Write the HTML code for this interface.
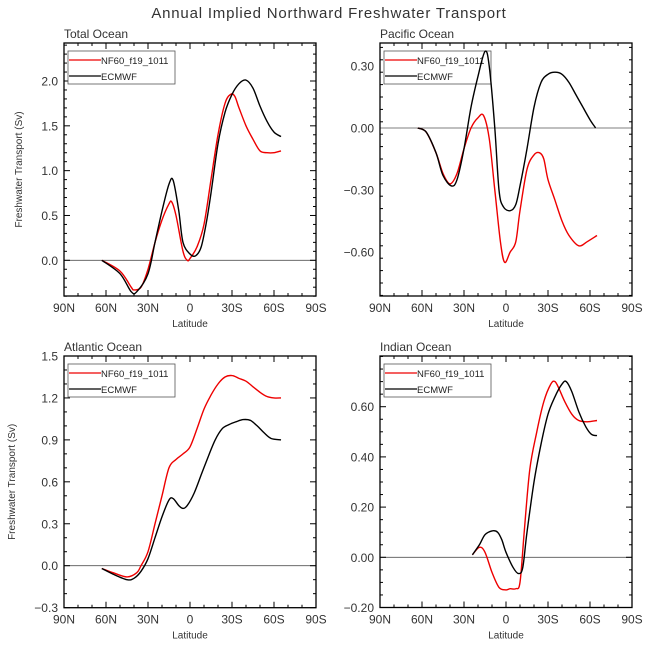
<!DOCTYPE html>
<html><head><meta charset="utf-8"><style>
body{margin:0;background:#fff}
svg{display:block;font-family:"Liberation Sans","DejaVu Sans",sans-serif}
</style></head><body>
<svg id="c" width="649" height="651" viewBox="0 0 649 651">
<text x="329" y="18" text-anchor="middle" font-size="15" fill="#333" letter-spacing="0.8">Annual Implied Northward Freshwater Transport</text>
</svg>
<script>
const latTicks=[-90,-60,-30,0,30,60,90];
const latLabels=["90N","60N","30N","0","30S","60S","90S"];
const totalLat=[-63,-50,-42,-40,-35,-30,-25,-20,-15,-13,-10,-5,-2,0,5,10,15,20,25,29,32,35,40,45,50,55,60,65];
const totalModel=[0,-0.12,-0.3,-0.33,-0.3,-0.1,0.2,0.45,0.63,0.65,0.5,0.1,0,0.02,0.15,0.4,0.9,1.4,1.75,1.85,1.83,1.7,1.5,1.35,1.22,1.2,1.2,1.22];
const totalObsLat=[-63,-50,-42,-38,-30,-25,-20,-15,-12,-8,-5,0,4,8,12,15,20,25,30,35,40,45,50,55,60,65];
const totalObs=[0,-0.15,-0.35,-0.35,-0.15,0.2,0.55,0.85,0.89,0.55,0.2,0.07,0.05,0.15,0.45,0.75,1.3,1.65,1.85,1.97,2.01,1.92,1.72,1.55,1.43,1.38];
const pacLat=[-63,-57,-50,-45,-40,-35,-30,-25,-20,-16,-12,-8,-4,-1,3,7,10,15,20,24,27,30,35,40,45,52,58,65];
const pacModel=[0,-0.02,-0.12,-0.22,-0.27,-0.22,-0.1,0,0.05,0.06,-0.05,-0.3,-0.55,-0.65,-0.6,-0.55,-0.4,-0.2,-0.13,-0.12,-0.15,-0.25,-0.35,-0.45,-0.52,-0.57,-0.55,-0.52];
const pacObsLat=[-63,-57,-50,-45,-39,-35,-30,-25,-20,-15,-12,-8,-5,-2,3,7,10,15,20,25,30,35,40,45,50,55,60,64];
const pacObs=[0,-0.02,-0.12,-0.23,-0.28,-0.25,-0.1,0.1,0.25,0.37,0.3,0,-0.3,-0.38,-0.4,-0.37,-0.28,-0.1,0.1,0.22,0.26,0.27,0.26,0.22,0.16,0.1,0.04,0];
const atlLat=[-63,-55,-45,-38,-35,-30,-25,-20,-15,-10,-5,0,5,10,15,20,25,30,35,40,45,50,55,60,65];
const atlModel=[-0.02,-0.05,-0.08,-0.05,0,0.1,0.3,0.5,0.7,0.76,0.8,0.85,0.98,1.12,1.22,1.3,1.35,1.36,1.34,1.32,1.28,1.24,1.21,1.2,1.2];
const atlObsLat=[-63,-55,-45,-40,-35,-30,-25,-20,-15,-12,-8,-5,-2,3,8,13,18,23,28,33,38,43,48,53,58,65];
const atlObs=[-0.02,-0.06,-0.1,-0.09,-0.04,0.05,0.2,0.35,0.47,0.48,0.43,0.41,0.43,0.52,0.65,0.78,0.9,0.98,1.01,1.03,1.045,1.04,1,0.95,0.91,0.9];
const indLat=[-24,-19,-15,-10,-5,0,3,7,10,13,17,22,27,32,35,38,42,47,52,58,65];
const indModel=[0.01,0.04,0.02,-0.06,-0.12,-0.13,-0.125,-0.125,-0.1,0.1,0.35,0.5,0.62,0.69,0.7,0.67,0.62,0.57,0.545,0.54,0.545];
const indObsLat=[-24,-19,-15,-10,-6,-3,0,5,9,12,15,20,25,30,35,40,43,47,52,57,61,65];
const indObs=[0.01,0.05,0.09,0.105,0.1,0.07,0.02,-0.04,-0.065,-0.04,0.1,0.3,0.45,0.57,0.64,0.69,0.7,0.66,0.58,0.52,0.49,0.485];
const totalTicks=[0,0.5,1,1.5,2];const totalTickLabels=["0.0","0.5","1.0","1.5","2.0"];
const pacTicks=[-0.6,-0.3,0,0.3];const pacTickLabels=["-0.60","-0.30","0.00","0.30"];
const atlTicks=[-0.3,0,0.3,0.6,0.9,1.2,1.5];const atlTickLabels=["-0.3","0.0","0.3","0.6","0.9","1.2","1.5"];
const indTicks=[-0.2,0,0.2,0.4,0.6];const indTickLabels=["-0.20","0.00","0.20","0.40","0.60"];

const svg=document.getElementById('c');
const NS='http://www.w3.org/2000/svg';
function mk(tag,attrs,parent){const e=document.createElementNS(NS,tag);for(const k in attrs)e.setAttribute(k,attrs[k]);(parent||svg).appendChild(e);return e;}
function smooth(pts){let d='M'+pts[0][0]+','+pts[0][1];for(let i=0;i<pts.length-1;i++){const p0=pts[Math.max(0,i-1)],p1=pts[i],p2=pts[i+1],p3=pts[Math.min(pts.length-1,i+2)];const c1=[p1[0]+(p2[0]-p0[0])/6,p1[1]+(p2[1]-p0[1])/6],c2=[p2[0]-(p3[0]-p1[0])/6,p2[1]-(p3[1]-p1[1])/6];d+=' C'+c1[0].toFixed(1)+','+c1[1].toFixed(1)+' '+c2[0].toFixed(1)+','+c2[1].toFixed(1)+' '+p2[0].toFixed(1)+','+p2[1].toFixed(1);}return d;}

function panel(o){
 const g=mk('g',{});
 
 
 const xs=v=>o.L+(v+90)/180*(o.R-o.L);
 const ys=v=>o.y0+(o.y1-o.y0)*(v-o.v0)/(o.v1-o.v0);
 const t=mk('text',{x:o.L,y:o.T-5,'font-size':12,fill:'#333'},g);t.textContent=o.title;
 
 const z=mk('line',{x1:o.L,x2:o.R,y1:ys(0),y2:ys(0),stroke:'#555','stroke-width':0.8},g);
 
 for(let v=-90;v<=90;v+=10){const x=xs(v),maj=v%30===0,len=maj?6:3;
  mk('line',{x1:x,x2:x,y1:o.B,y2:o.B-len,stroke:'#000'},g);mk('line',{x1:x,x2:x,y1:o.T,y2:o.T+len,stroke:'#000'},g);}
 latTicks.forEach((v,i)=>{const tx=mk('text',{x:xs(v),y:o.B+16,'text-anchor':'middle','font-size':12,fill:'#333'},g);tx.textContent=latLabels[i];
  });
 const xl=mk('text',{x:(o.L+o.R)/2,y:o.B+31,'text-anchor':'middle','font-size':10,fill:'#333'},g);xl.textContent='Latitude';
 
 const step=o.minor;
 for(let v=o.lo;v<=o.hi+1e-9;v+=step){const y=ys(v);if(y<o.T-0.5||y>o.B+0.5)continue;
  const maj=o.ticks.some(t=>Math.abs(t-v)<1e-6),len=maj?6:3;
  mk('line',{x1:o.L,x2:o.L+len,y1:y,y2:y,stroke:'#000'},g);mk('line',{x1:o.R,x2:o.R-len,y1:y,y2:y,stroke:'#000'},g);}
 o.ticks.forEach((v,i)=>{const tx=mk('text',{x:o.L-6,y:ys(v)+4.5,'text-anchor':'end','font-size':12,fill:'#333'},g);tx.textContent=o.tickLabels[i].replace('-','\u2212');
  });
 if(o.ytitle){const yt=mk('text',{x:0,y:0,transform:'translate('+o.ytx+','+((o.T+o.B)/2)+') rotate(-90)','text-anchor':'middle','font-size':10,fill:'#333'},g);yt.textContent='Freshwater Transport (Sv)';
  }
 // legend (under the series)
 const lg=mk('g',{},g);
 const lx=o.L+4,ly=o.T+8;
 mk('rect',{x:lx,y:ly,width:107,height:33,fill:'#fff',stroke:'#555','stroke-width':0.8},lg);
 mk('line',{x1:lx+1,x2:lx+33,y1:ly+9,y2:ly+9,stroke:'#e00','stroke-width':1.3},lg);
 mk('line',{x1:lx+1,x2:lx+33,y1:ly+25,y2:ly+25,stroke:'#000','stroke-width':1.3},lg);
 const a=mk('text',{x:lx+33,y:ly+13,'font-size':9.5,fill:'#222'},lg);a.textContent='NF60_f19_1011';
 
 const b=mk('text',{x:lx+33,y:ly+29,'font-size':9.5,fill:'#222'},lg);b.textContent='ECMWF';
 
 const p1=mk('path',{d:smooth(o.mLat.map((v,i)=>[xs(v),ys(o.m[i])])),fill:'none',stroke:'#e00',"stroke-width":1.4},g);
 
 const p2=mk('path',{d:smooth(o.oLat.map((v,i)=>[xs(v),ys(o.ob[i])])),fill:'none',stroke:'#000',"stroke-width":1.4},g);
 
 mk('rect',{x:o.L,y:o.T,width:o.R-o.L,height:o.B-o.T,fill:'none',stroke:'#000','stroke-width':1.3},g);
}
panel({name:'total-ocean-panel',title:'Total Ocean',L:64,R:316,T:43,B:296,v0:0,y0:260.3,v1:2,y1:81,lo:-0.4,hi:2.4,minor:0.1,ticks:totalTicks,tickLabels:totalTickLabels,ytitle:true,ytx:22,mLat:totalLat,m:totalModel,oLat:totalObsLat,ob:totalObs});
panel({name:'pacific-ocean-panel',title:'Pacific Ocean',L:380,R:632,T:43,B:296,v0:0,y0:128,v1:0.3,y1:66,lo:-0.81,hi:0.42,minor:0.06,ticks:pacTicks,tickLabels:pacTickLabels,ytitle:false,mLat:pacLat,m:pacModel,oLat:pacObsLat,ob:pacObs});
panel({name:'atlantic-ocean-panel',title:'Atlantic Ocean',L:64,R:316,T:356,B:607.7,v0:0,y0:565.7,v1:1.5,y1:356,lo:-0.3,hi:1.5,minor:0.1,ticks:atlTicks,tickLabels:atlTickLabels,ytitle:true,ytx:15,mLat:atlLat,m:atlModel,oLat:atlObsLat,ob:atlObs});
panel({name:'indian-ocean-panel',title:'Indian Ocean',L:380,R:632,T:356,B:607.5,v0:0,y0:557.3,v1:0.6,y1:406.7,lo:-0.2,hi:0.8,minor:0.05,ticks:indTicks,tickLabels:indTickLabels,ytitle:false,mLat:indLat,m:indModel,oLat:indObsLat,ob:indObs});
</script>
</body></html>
